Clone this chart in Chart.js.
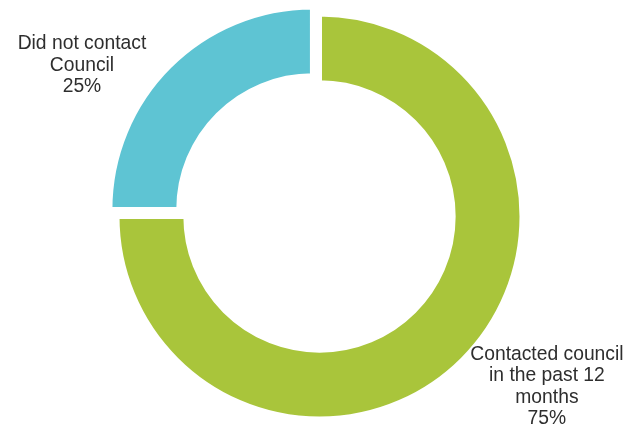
<!DOCTYPE html>
<html>
<head>
<meta charset="utf-8">
<script src="https://cdn.jsdelivr.net/npm/chart.js@4.4.0/dist/chart.umd.min.js"></script>
<style>
html,body{margin:0;padding:0;background:#fff;}
#wrap{width:627px;height:435px;position:relative;}
</style>
</head>
<body>
<div id="wrap"><canvas id="c" width="627" height="435"></canvas></div>
<script>
const categories = ['Contacted council in the past 12 months', 'Did not contact Council'];
const labelLines = [['Contacted council', 'in the past 12', 'months'], ['Did not contact', 'Council']];
const values = [75, 25];
const colors = ['#A9C53B', '#5EC4D3'];

const labelPlugin = {
  id: 'outLabels',
  afterDatasetsDraw(chart) {
    const ctx = chart.ctx;
    const meta = chart.getDatasetMeta(0);
    const total = values.reduce((a, b) => a + b, 0);
    // label anchors relative to arc centre, in units of outer radius
    const rel = [[1.123, 0.84], [-1.173, -0.746]];
    ctx.save();
    ctx.font = '19.3px "Liberation Sans", Arial, sans-serif';
    ctx.fillStyle = '#2e2e2e';
    ctx.textAlign = 'center';
    ctx.textBaseline = 'middle';
    meta.data.forEach((arc, i) => {
      const lines = labelLines[i].concat([Math.round(values[i] / total * 100) + '%']);
      const cx = arc.x + rel[i][0] * arc.outerRadius;
      const cy = arc.y + rel[i][1] * arc.outerRadius;
      const lh = 21.5;
      const start = cy - (lines.length - 1) * lh / 2;
      lines.forEach((t, k) => ctx.fillText(t, cx, start + k * lh));
    });
    ctx.restore();
  }
};

new Chart(document.getElementById('c'), {
  type: 'doughnut',
  data: {
    labels: categories,
    datasets: [{
      data: values,
      backgroundColor: colors,
      borderColor: '#ffffff',
      borderWidth: 5,
      borderJoinStyle: 'miter',
      offset: [0, 40]
    }]
  },
  options: {
    responsive: false,
    animation: false,
    radius: 202.5,
    cutout: '66%',
    layout: { padding: { left: 12, right: 0, top: 0, bottom: 2 } },
    plugins: { legend: { display: false }, tooltip: { enabled: false } }
  },
  plugins: [labelPlugin]
});
</script>
</body>
</html>
